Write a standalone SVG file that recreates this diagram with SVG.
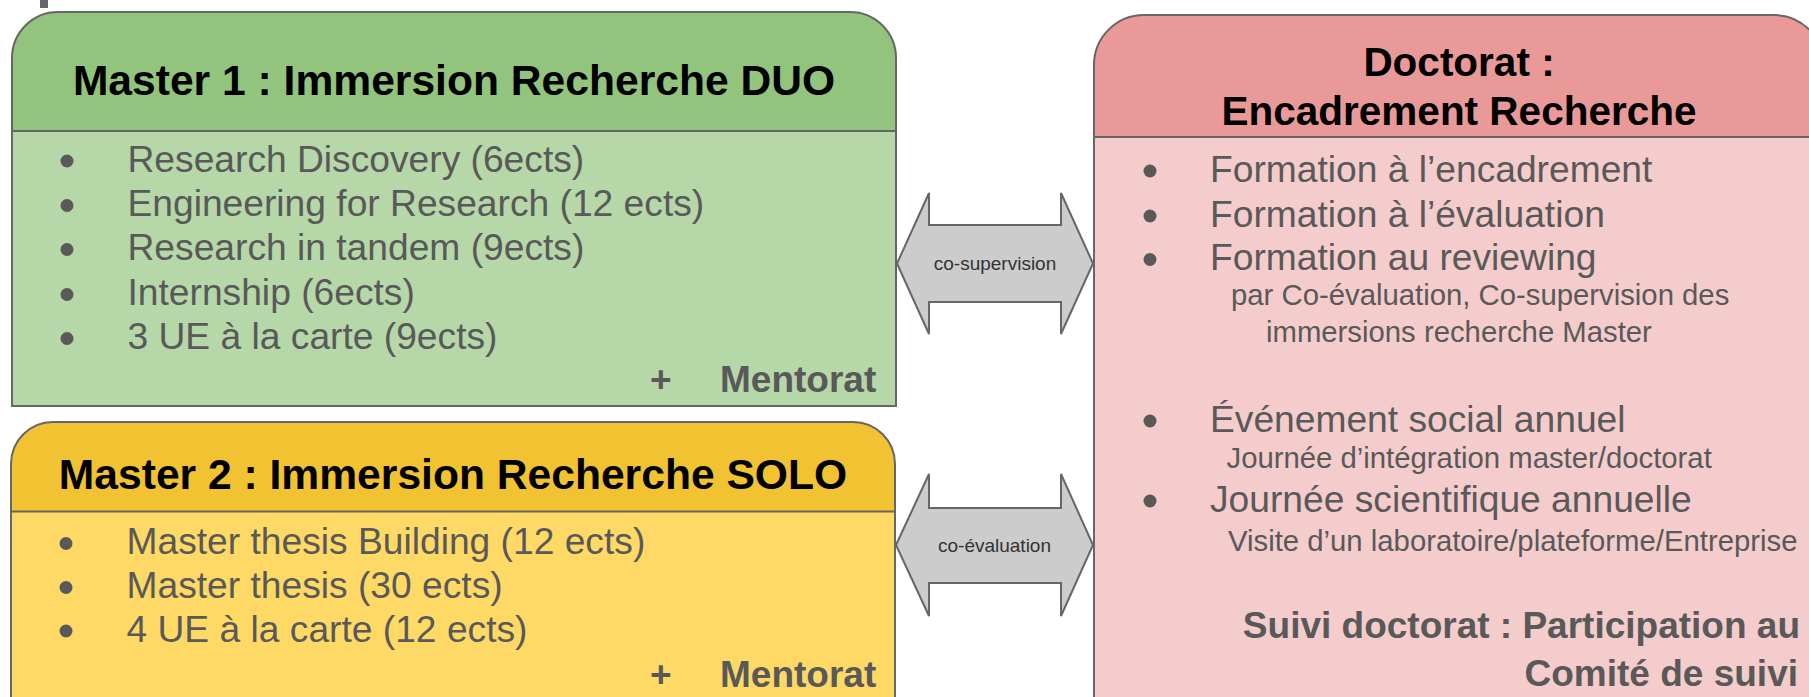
<svg xmlns="http://www.w3.org/2000/svg" width="1809" height="697" viewBox="0 0 1809 697">
<style>
.ol{fill:none;stroke:#666;stroke-width:2}
.dv{stroke:#666;stroke-width:2}
.hd{font-family:"Liberation Sans",Arial,sans-serif;font-weight:bold;fill:#000;text-anchor:middle}
.bt{font-family:"Liberation Sans",Arial,sans-serif;fill:#595959;font-size:37.2px}
.sm{font-family:"Liberation Sans",Arial,sans-serif;fill:#595959;font-size:29.3px}
.bb{font-weight:bold;font-size:37px}
.end{text-anchor:end}
.bul{fill:#595959}
.arr{fill:#ccc;stroke:#666;stroke-width:2}
.lbl{font-family:"Liberation Sans",Arial,sans-serif;font-size:19px;fill:#333;text-anchor:middle}
</style>
<rect width="1809" height="697" fill="#fff"/>
<rect x="40" y="0" width="8" height="8" fill="#666"/>

<g id="master1">
<path d="M12,131 V58 A46,46 0 0 1 58,12 H850 A46,46 0 0 1 896,58 V131 Z" fill="#93c47d"/>
<rect x="12" y="131" width="884" height="275" fill="#b6d7a8"/>
<path class="ol" d="M12,406 V58 A46,46 0 0 1 58,12 H850 A46,46 0 0 1 896,58 V406 Z"/>
<line class="dv" x1="12" y1="131" x2="896" y2="131"/>
<text class="hd" font-size="42.6" x="454" y="95">Master 1 : Immersion Recherche DUO</text>
<circle class="bul" cx="67" cy="161" r="6.5"/>
<circle class="bul" cx="67" cy="205.5" r="6.5"/>
<circle class="bul" cx="67" cy="249.5" r="6.5"/>
<circle class="bul" cx="67" cy="294.5" r="6.5"/>
<circle class="bul" cx="67" cy="338.5" r="6.5"/>
<text class="bt" x="127.5" y="171.7">Research Discovery (6ects)</text>
<text class="bt" x="127.5" y="216">Engineering for Research (12 ects)</text>
<text class="bt" x="127.5" y="260">Research in tandem (9ects)</text>
<text class="bt" x="127.5" y="305">Internship (6ects)</text>
<text class="bt" x="127.5" y="349">3 UE à la carte (9ects)</text>
<text class="bt bb" x="650" y="391.7">+</text>
<text class="bt bb" x="720" y="391.7">Mentorat</text>
</g>

<g id="master2">
<path d="M11,511.5 V464 A42,42 0 0 1 53,422 H853 A42,42 0 0 1 895,464 V511.5 Z" fill="#f1c232"/>
<rect x="11" y="511.5" width="884" height="200" fill="#ffd966"/>
<path class="ol" d="M11,720 V464 A42,42 0 0 1 53,422 H853 A42,42 0 0 1 895,464 V720"/>
<line class="dv" x1="11" y1="511.5" x2="895" y2="511.5"/>
<text class="hd" font-size="42.6" x="453" y="489">Master 2 : Immersion Recherche SOLO</text>
<circle class="bul" cx="66" cy="543.5" r="6.5"/>
<circle class="bul" cx="66" cy="587.5" r="6.5"/>
<circle class="bul" cx="66" cy="631" r="6.5"/>
<text class="bt" x="126.5" y="554">Master thesis Building (12 ects)</text>
<text class="bt" x="126.5" y="598">Master thesis (30 ects)</text>
<text class="bt" x="126.5" y="641.7">4 UE à la carte (12 ects)</text>
<text class="bt bb" x="650" y="686.7">+</text>
<text class="bt bb" x="720" y="686.7">Mentorat</text>
</g>

<g id="doctorat">
<path d="M1094,137 V65 A50,50 0 0 1 1144,15 H1774 A50,50 0 0 1 1824,65 V137 Z" fill="#ea9999"/>
<rect x="1094" y="137" width="730" height="600" fill="#f4cccc"/>
<path class="ol" d="M1094,720 V65 A50,50 0 0 1 1144,15 H1774 A50,50 0 0 1 1824,65 V720"/>
<line class="dv" x1="1094" y1="137" x2="1824" y2="137"/>
<text class="hd" font-size="40.5" x="1459" y="76">Doctorat :</text>
<text class="hd" font-size="40.5" x="1459" y="125">Encadrement Recherche</text>
<circle class="bul" cx="1150" cy="171" r="6.5"/>
<circle class="bul" cx="1150" cy="216" r="6.5"/>
<circle class="bul" cx="1150" cy="259.5" r="6.5"/>
<circle class="bul" cx="1150" cy="421" r="6.5"/>
<circle class="bul" cx="1150" cy="501" r="6.5"/>
<text class="bt" x="1210" y="181.7">Formation à l’encadrement</text>
<text class="bt" x="1210" y="226.7">Formation à l’évaluation</text>
<text class="bt" x="1210" y="270">Formation au reviewing</text>
<text class="sm" x="1231" y="305">par Co-évaluation, Co-supervision des</text>
<text class="sm" x="1266" y="341.7">immersions recherche Master</text>
<text class="bt" x="1210" y="431.7">Événement social annuel</text>
<text class="sm" x="1226.5" y="468">Journée d’intégration master/doctorat</text>
<text class="bt" x="1210" y="511.7">Journée scientifique annuelle</text>
<text class="sm" x="1228" y="550.7">Visite d’un laboratoire/plateforme/Entreprise</text>
<text class="bt bb end" x="1800" y="638">Suivi doctorat : Participation au</text>
<text class="bt bb end" x="1798" y="686">Comité de suivi</text>
</g>

<g id="connectors">
<g id="co-supervision">
<path class="arr" d="M897,263.5 L929,193 L929,225 L1061,225 L1061,193 L1093,263.5 L1061,334 L1061,302 L929,302 L929,334 Z"/>
<text class="lbl" x="995" y="270">co-supervision</text>
</g>
<g id="co-evaluation">
<path class="arr" d="M896,545 L929,474 L929,508 L1061,508 L1061,474 L1093,545 L1061,616 L1061,583 L929,583 L929,616 Z"/>
<text class="lbl" x="994.5" y="552">co-évaluation</text>
</g>
</g>
</svg>
